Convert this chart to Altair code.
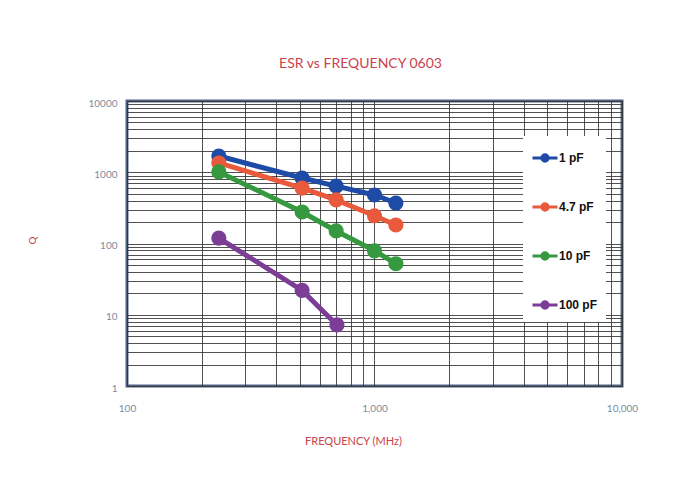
import altair as alt
import pandas as pd

# ---- data ----
series_names = ["1 pF", "4.7 pF", "10 pF", "100 pF"]
series_colors = ["#1d4ba6", "#e95a3d", "#36983f", "#7c3d97"]

freq_1pF = [235, 510, 700, 1000, 1220]
q_1pF = [1690, 830, 640, 480, 370]

freq_4p7pF = [235, 510, 700, 1000, 1220]
q_4p7pF = [1350, 600, 410, 245, 182]

freq_10pF = [235, 510, 700, 1000, 1220]
q_10pF = [1010, 277, 150, 79, 52]

freq_100pF = [235, 510, 705]
q_100pF = [119, 22, 7.2]

x_grid_values = [100, 200, 300, 400, 500, 600, 700, 800, 900,
                 1000, 2000, 3000, 4000, 5000, 6000, 7000, 8000, 9000, 10000]
y_grid_values = [1, 2, 3, 4, 5, 6, 7, 8, 9,
                 10, 20, 30, 40, 50, 60, 70, 80, 90,
                 100, 200, 300, 400, 500, 600, 700, 800, 900,
                 1000, 2000, 3000, 4000, 5000, 6000, 7000, 8000, 9000, 10000]

rows = []
for name, fs, qs in [("1 pF", freq_1pF, q_1pF), ("4.7 pF", freq_4p7pF, q_4p7pF),
                     ("10 pF", freq_10pF, q_10pF), ("100 pF", freq_100pF, q_100pF)]:
    for f, q in zip(fs, qs):
        rows.append({"series": name, "freq": f, "q": q})
df = pd.DataFrame(rows)

label_grey = "#7e8ba3"
red = "#c9434b"

x_enc = alt.X("freq:Q",
              scale=alt.Scale(type="log", domain=[100, 10000], nice=False),
              axis=alt.Axis(values=x_grid_values, grid=True, ticks=False, domain=False,
                            labelExpr="datum.value == 100 ? '100' : datum.value == 1000 ? '1,000' : datum.value == 10000 ? '10,000' : ''",
                            labelPadding=17, labelFontSize=10, labelColor=label_grey,
                            labelFont="Lato", labelFlush=False, labelOverlap=False,
                            title="FREQUENCY (MHz)", titleFont="Lato", titleFontSize=11,
                            titleFontWeight="normal", titleColor=red,
                            titleX=226, titleY=55, titleBaseline="middle", titleAlign="center"))
y_enc = alt.Y("q:Q",
              scale=alt.Scale(type="log", domain=[1, 10000], nice=False),
              axis=alt.Axis(values=y_grid_values, grid=True, ticks=False, domain=False,
                            labelExpr="datum.value == 1 || datum.value == 10 || datum.value == 100 || datum.value == 1000 || datum.value == 10000 ? datum.value + '' : ''",
                            labelPadding=10, labelFontSize=10, labelColor=label_grey,
                            labelFont="Lato", labelFlush=False, labelOverlap=False,
                            labelOffset=2,
                            title="Q", titleFont="Lato", titleFontSize=10,
                            titleFontWeight="normal", titleColor=red,
                            titleX=-95, titleY=139, titleBaseline="middle", titleAlign="center"))

color_enc = alt.Color("series:N",
                      scale=alt.Scale(domain=series_names, range=series_colors),
                      sort=series_names,
                      legend=alt.Legend(title=None, orient="none", legendX=396, legendY=35,
                                        fillColor="white", padding=8,
                                        symbolType="M-1,0H1M-0.26,0A0.26,0.26,0,1,1,0.26,0A0.26,0.26,0,1,1,-0.26,0Z",
                                        symbolSize=625, symbolStrokeWidth=2.8,
                                        symbolOpacity=1,
                                        labelFont="Liberation Sans", labelFontWeight="bold",
                                        labelFontSize=12, labelColor="#111111",
                                        labelOffset=0, rowPadding=26))

order_enc = alt.Order("freq:Q")

layers = []
for name in series_names:
    sub = df[df["series"] == name]
    layers.append(alt.Chart(sub).mark_line(strokeWidth=5).encode(
        x=x_enc, y=y_enc, color=color_enc, order=order_enc))
    layers.append(alt.Chart(sub).mark_circle(size=230, opacity=1).encode(
        x=x_enc, y=y_enc, color=color_enc))

chart = alt.layer(*layers).properties(
    width=495, height=285,
    padding={"left": 119, "top": 93, "right": 62, "bottom": 84},
    autosize=alt.AutoSizeParams(type="none"),
    title=alt.TitleParams("ESR vs FREQUENCY 0603", font="Lato", fontSize=14,
                          fontWeight="normal", color=red, anchor="middle",
                          dx=-14, offset=27),
    background="white",
).configure_view(
    stroke="#4e6282", strokeWidth=3
).configure_axis(
    gridColor="#333333", gridWidth=1, gridOpacity=0.85
)

chart.save("out.html", embed_options={"renderer": "svg", "actions": False})
